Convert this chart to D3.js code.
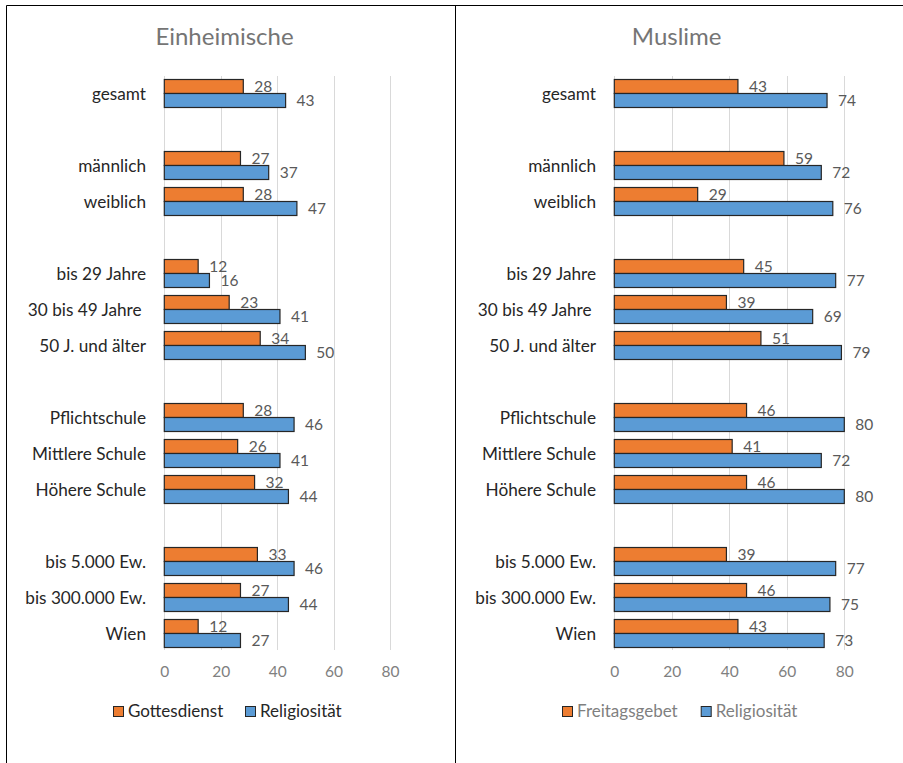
<!DOCTYPE html>
<html><head><meta charset="utf-8">
<script src="https://cdn.jsdelivr.net/npm/d3@7"></script>
<style>
html,body{margin:0;padding:0;background:#fff;}
svg{display:block;font-family:Lato, "Open Sans", sans-serif;}
text{white-space:pre;}
</style></head>
<body>
<svg id="chart" width="903" height="763"></svg>
<script>
// ---- data ----
const categories = ["gesamt", "", "männlich", "weiblich", "", "bis 29 Jahre", "30 bis 49 Jahre ", "50 J. und älter", "",
  "Pflichtschule", "Mittlere Schule", "Höhere Schule", "", "bis 5.000 Ew.", "bis 300.000 Ew.", "Wien"];
const einGottesdienst = [28, null, 27, 28, null, 12, 23, 34, null, 28, 26, 32, null, 33, 27, 12];
const einReligiositaet = [43, null, 37, 47, null, 16, 41, 50, null, 46, 41, 44, null, 46, 44, 27];
const musFreitagsgebet = [43, null, 59, 29, null, 45, 39, 51, null, 46, 41, 46, null, 39, 46, 43];
const musReligiositaet = [74, null, 72, 76, null, 77, 69, 79, null, 80, 72, 80, null, 77, 75, 73];
const tickValues = [0, 20, 40, 60, 80];
const titles = ["Einheimische", "Muslime"];
const seriesNamesEin = ["Gottesdienst", "Religiosität"];
const seriesNamesMus = ["Freitagsgebet", "Religiosität"];
const colors = ["#ED7D31", "#5B9BD5"];

const svg = d3.select("#chart");

// frame
svg.append("path")
  .attr("d", "M6.5,763 V5.5 H903 M455.5,5.5 V763")
  .attr("fill", "none").attr("stroke", "#000").attr("stroke-width", 1);

const panels = [
  {title: titles[0], names: seriesNamesEin, data: [einGottesdienst, einReligiositaet],
   x0: 164.3, x1: 390, labelRight: 146, titleX: 224.5, legendColor: "#262626",
   legendX: [113, 245]},
  {title: titles[1], names: seriesNamesMus, data: [musFreitagsgebet, musReligiositaet],
   x0: 614.3, x1: 844.3, labelRight: 596, titleX: 676.7, legendColor: "#7f7f7f",
   legendX: [562, 700.7]}
];

const y = d3.scaleBand().domain(d3.range(categories.length)).range([75.5, 651.5]).paddingInner(0);
const sub = d3.scaleBand().domain([0, 1]).range([-14, 14]);

panels.forEach(p => {
  const g = svg.append("g");
  const x = d3.scaleLinear().domain([0, 80]).range([p.x0, p.x1]);

  // title
  g.append("text").attr("x", p.titleX).attr("y", 45)
    .attr("text-anchor", "middle").attr("fill", "#757575")
    .attr("font-size", 24).text(p.title);

  // gridlines
  g.append("g").selectAll("line").data(tickValues).join("line")
    .attr("x1", d => Math.round(x(d)) + 0.5).attr("x2", d => Math.round(x(d)) + 0.5)
    .attr("y1", 76).attr("y2", 650)
    .attr("stroke", "#d9d9d9").attr("stroke-width", 1);

  // axis
  const axis = d3.axisBottom(x).tickValues(tickValues).tickSize(0).tickPadding(0);
  const ag = g.append("g").attr("transform", "translate(0,666)").call(axis);
  ag.select(".domain").remove();
  ag.selectAll("text").attr("fill", "#808080").attr("font-size", 15.5)
    .attr("font-family", "Lato, 'Open Sans', sans-serif").attr("dy", "0.71em");

  // category labels
  g.append("g").selectAll("text").data(categories.map((c, i) => ({c, i})).filter(d => d.c !== ""))
    .join("text")
    .attr("x", p.labelRight).attr("y", d => y(d.i) + y.bandwidth() / 2)
    .attr("dy", "0.35em").attr("text-anchor", "end")
    .attr("fill", "#262626").attr("font-size", 17.2)
    .text(d => d.c);

  // bars + value labels
  p.data.forEach((vals, s) => {
    const items = vals.map((v, i) => ({v, i})).filter(d => d.v !== null);
    g.append("g").selectAll("rect").data(items).join("rect")
      .attr("x", x(0))
      .attr("y", d => y(d.i) + y.bandwidth() / 2 + sub(s))
      .attr("width", d => x(d.v) - x(0))
      .attr("height", sub.bandwidth())
      .attr("fill", colors[s]).attr("stroke", "#262626").attr("stroke-width", 1.2);
    g.append("g").selectAll("text").data(items).join("text")
      .attr("x", d => x(d.v) + 11)
      .attr("y", d => y(d.i) + y.bandwidth() / 2 + sub(s) + sub.bandwidth() / 2 + 0.5)
      .attr("dy", "0.35em")
      .attr("fill", "#595959").attr("font-size", 15.5)
      .text(d => d.v);
  });

  // legend
  const lg = g.append("g");
  p.names.forEach((n, s) => {
    lg.append("rect").attr("x", p.legendX[s] + 0.5).attr("y", 706.5).attr("width", 10).attr("height", 10)
      .attr("fill", colors[s]).attr("stroke", "#262626").attr("stroke-width", 1);
    lg.append("text").attr("x", p.legendX[s] + 15).attr("y", 711.5).attr("dy", "0.35em")
      .attr("fill", p.legendColor).attr("font-size", 17).text(n);
  });
});
</script>
</body></html>
